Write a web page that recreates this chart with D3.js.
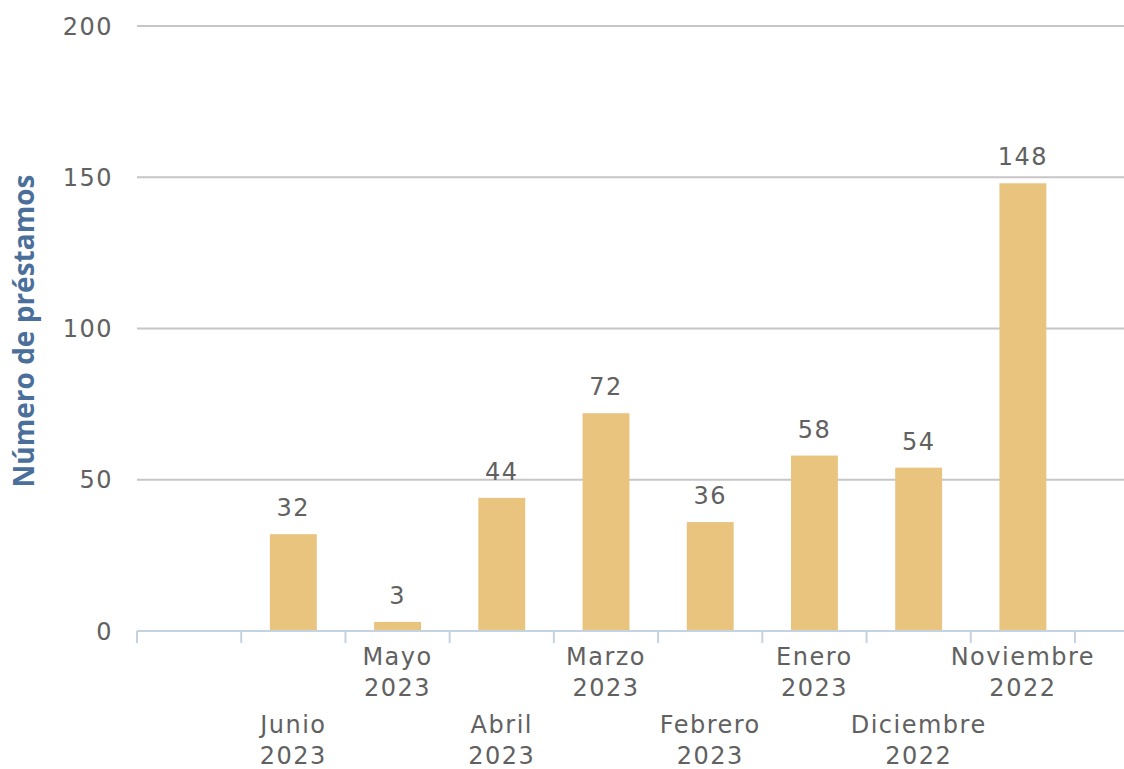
<!DOCTYPE html>
<html>
<head>
<meta charset="utf-8">
<script src="https://cdn.jsdelivr.net/npm/d3@7"></script>
<style>
  body { margin: 0; background: #fff; }
</style>
</head>
<body>
<svg id="mainsvg" width="1124" height="769"></svg>
<script>
// datos
const months = ["", "Junio", "Mayo", "Abril", "Marzo", "Febrero", "Enero", "Diciembre", "Noviembre"];
const years = ["", "2023", "2023", "2023", "2023", "2023", "2023", "2022", "2022"];
const loans = [null, 32, 3, 44, 72, 36, 58, 54, 148];
const yTicks = [0, 50, 100, 150, 200];

const svg = d3.select('#mainsvg');
const myWidth = +svg.attr('width');
const myHeight = +svg.attr('height');

const margin = { top: 26, right: 0, bottom: 138, left: 137 };
const plotRight = 1075;
const baseY = myHeight - margin.bottom;

const textColor = "#616161";
const fontFamily = "'DejaVu Sans', Verdana, sans-serif";

const data = months.map((m, i) => ({ key: i, month: m, year: years[i], value: loans[i] }));

// escalas
const x = d3.scaleBand()
  .domain(data.map(d => d.key))
  .range([margin.left, plotRight])
  .paddingInner(0.55)
  .paddingOuter(0.275);

const xEdge = d3.scaleBand()
  .domain(data.map(d => d.key))
  .range([margin.left, plotRight])
  .padding(0);

const y = d3.scaleLinear()
  .domain([0, 200])
  .range([baseY, margin.top]);

// lineas de la cuadricula
svg.append("g")
  .selectAll("line")
  .data(yTicks.filter(t => t > 0))
  .join("line")
  .attr("x1", margin.left)
  .attr("x2", myWidth)
  .attr("y1", d => y(d))
  .attr("y2", d => y(d))
  .attr("stroke", "#c6c6c6")
  .attr("stroke-width", 2);

// etiquetas eje y
svg.append("g")
  .selectAll("text")
  .data(yTicks)
  .join("text")
  .attr("x", 113)
  .attr("y", d => y(d))
  .attr("dy", "0.36em")
  .attr("text-anchor", "end")
  .attr("font-family", fontFamily)
  .attr("font-size", 24)
  .attr("letter-spacing", 1.5)
  .attr("fill", textColor)
  .text(d => d);

// barras
svg.append("g")
  .selectAll("rect")
  .data(data.filter(d => d.value != null))
  .join("rect")
  .attr("x", d => x(d.key))
  .attr("width", x.bandwidth())
  .attr("y", d => y(d.value))
  .attr("height", d => y(0) - y(d.value))
  .attr("fill", "#e9c47e");

// valores sobre las barras
svg.append("g")
  .selectAll("text")
  .data(data.filter(d => d.value != null))
  .join("text")
  .attr("x", d => x(d.key) + x.bandwidth() / 2)
  .attr("y", d => y(d.value) - 18)
  .attr("text-anchor", "middle")
  .attr("font-family", fontFamily)
  .attr("font-size", 24)
  .attr("letter-spacing", 1.5)
  .attr("fill", textColor)
  .text(d => d.value);

// eje x
svg.append("line")
  .attr("x1", margin.left)
  .attr("x2", myWidth)
  .attr("y1", baseY)
  .attr("y2", baseY)
  .attr("stroke", "#c4d2e2")
  .attr("stroke-width", 2);

const tickPos = data.map(d => xEdge(d.key)).concat([plotRight]);
svg.append("g")
  .selectAll("line")
  .data(tickPos)
  .join("line")
  .attr("x1", d => d)
  .attr("x2", d => d)
  .attr("y1", baseY)
  .attr("y2", baseY + 12)
  .attr("stroke", "#c4d2e2")
  .attr("stroke-width", 2);

// etiquetas eje x (escalonadas)
const xLabels = svg.append("g")
  .selectAll("text")
  .data(data.filter(d => d.month !== ""))
  .join("text")
  .attr("text-anchor", "middle")
  .attr("font-family", fontFamily)
  .attr("font-size", 24)
  .attr("letter-spacing", 1.5)
  .attr("fill", textColor)
  .attr("transform", d => {
    const cx = xEdge(d.key) + xEdge.bandwidth() / 2;
    const yy = d.key % 2 === 1 ? baseY + 102 : baseY + 34;
    return `translate(${cx},${yy})`;
  });

xLabels.append("tspan").attr("x", 0).attr("y", 0).text(d => d.month);
xLabels.append("tspan").attr("x", 0).attr("y", 31).text(d => d.year);

// titulo eje y
svg.append("text")
  .attr("transform", `translate(34, 331) rotate(-90)`)
  .attr("text-anchor", "middle")
  .attr("font-family", "'Open Sans', sans-serif")
  .attr("font-weight", "bold")
  .attr("font-size", 28)
  .attr("fill", "#4a6f9a")
  .text("Número de préstamos");
</script>
</body>
</html>
